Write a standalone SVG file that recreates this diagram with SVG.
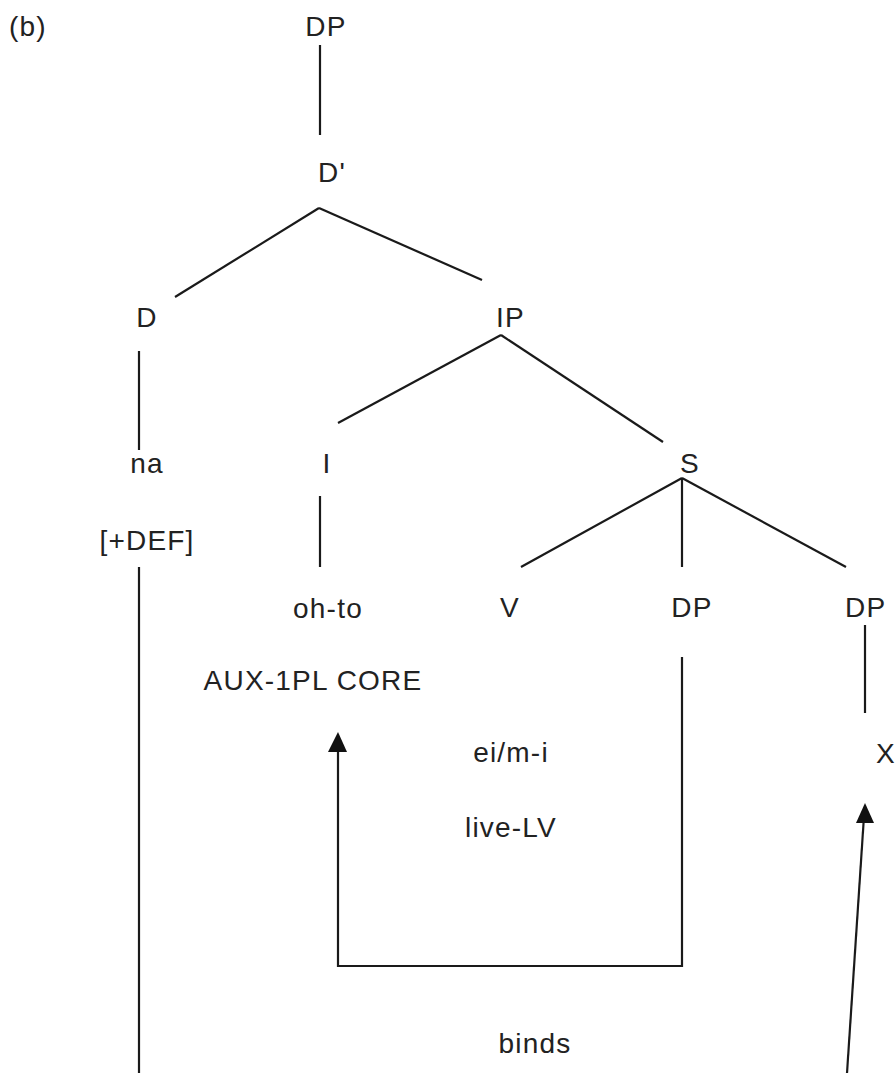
<svg xmlns="http://www.w3.org/2000/svg" width="895" height="1088" viewBox="0 0 895 1088">
<style>
text{font-family:"Liberation Sans",Arial,sans-serif;font-size:28px;fill:#222;letter-spacing:1.2px}
.m{text-anchor:middle}
line,path{stroke:#1a1a1a;stroke-width:2.2;fill:none}
</style>
<rect width="895" height="1088" fill="#fff"/>
<text x="9" y="36">(b)</text>
<g id="n-dp-top"><text class="m" x="326" y="36">DP</text></g>
<g id="n-dbar"><text x="318" y="182">D'</text></g>
<g id="n-d"><text class="m" x="147" y="327">D</text></g>
<g id="n-ip"><text x="496" y="327">IP</text></g>
<g id="n-na"><text class="m" x="147" y="473">na</text></g>
<g id="n-def"><text class="m" x="147" y="550">[+DEF]</text></g>
<g id="n-i"><text class="m" x="327" y="473">I</text></g>
<g id="n-s"><text class="m" x="690" y="473">S</text></g>
<g id="n-ohto"><text class="m" x="328" y="618">oh-to</text></g>
<g id="n-aux"><text class="m" x="313" y="690">AUX-1PL CORE</text></g>
<g id="n-v"><text class="m" x="510" y="617">V</text></g>
<g id="n-dp-mid"><text class="m" x="692" y="617">DP</text></g>
<g id="n-dp-right"><text x="845" y="617">DP</text></g>
<g id="n-eimi"><text class="m" x="511" y="762">ei/m-i</text></g>
<g id="n-livelv"><text class="m" x="511" y="837">live-LV</text></g>
<g id="n-x"><text x="876" y="763">X</text></g>
<g id="n-binds"><text class="m" x="535" y="1053">binds</text></g>
<g id="connectors">
<line x1="320" y1="45" x2="320" y2="135"/>
<line x1="319" y1="208" x2="175" y2="297"/>
<line x1="319" y1="208" x2="482" y2="280"/>
<line x1="139" y1="351" x2="139" y2="450"/>
<line x1="501" y1="335" x2="338" y2="423"/>
<line x1="501" y1="335" x2="663" y2="442"/>
<line x1="320" y1="496" x2="320" y2="567"/>
<line x1="682" y1="478" x2="521" y2="567"/>
<line x1="682" y1="478" x2="682" y2="567"/>
<line x1="682" y1="478" x2="846" y2="567"/>
<line x1="865" y1="625" x2="865" y2="713"/>
<line x1="139" y1="567" x2="139" y2="1073"/>
<path d="M682,657 L682,966 L338,966 L338,745"/>
<path d="M847,1073 L864,816"/>
<polygon points="338,732 328,752 347,752" style="fill:#111;stroke:none"/>
<polygon points="865,803 856,823 874,823" style="fill:#111;stroke:none"/>
</g>
</svg>
